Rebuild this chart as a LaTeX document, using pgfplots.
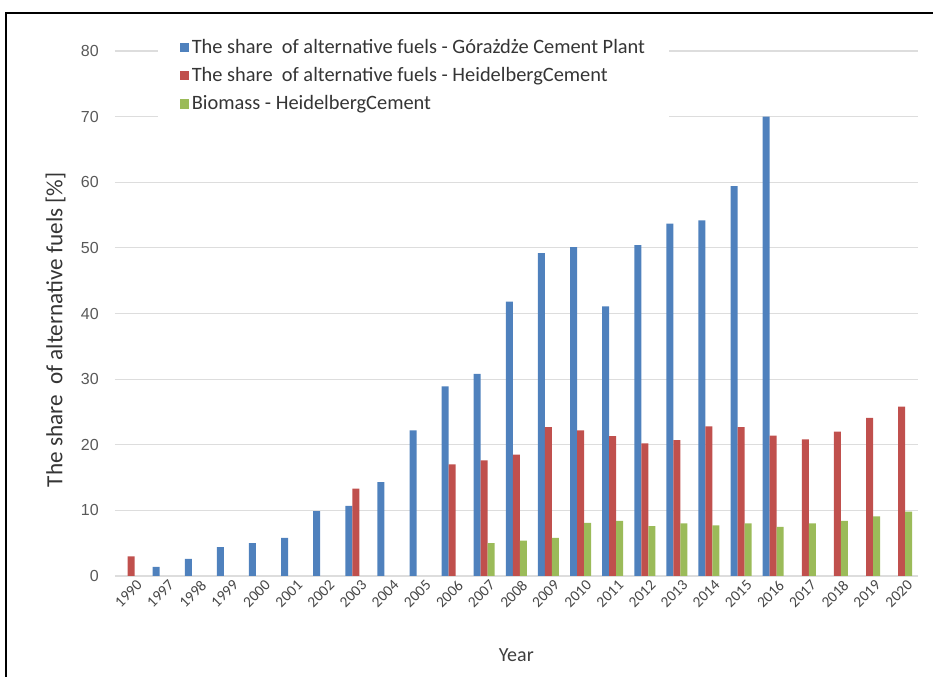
\documentclass[border=0pt]{standalone}
\usepackage{fontspec}
\setmainfont{Carlito}
\newfontfamily\arialf{Liberation Sans}
\usepackage{pgfplots}
\pgfplotsset{compat=1.18}
\definecolor{cblue}{HTML}{4F81BD}
\definecolor{cred}{HTML}{C0504D}
\definecolor{cgreen}{HTML}{9BBB59}
\definecolor{tgray}{HTML}{595959}
\definecolor{ggray}{HTML}{DDDDDD}
\begin{document}
\begin{tikzpicture}
\begin{axis}[
  name=ax,
  scale only axis,
  width=602pt, height=393.75pt,
  ybar=0pt, bar width=5.25pt,
  xmin=-0.5, xmax=24.5,
  ymin=0, ymax=80,
  ytick={0,10,...,80},
  xtick={0,...,24},
  xticklabels={1990,1997,1998,1999,2000,2001,2002,2003,2004,2005,2006,2007,2008,2009,2010,2011,2012,2013,2014,2015,2016,2017,2018,2019,2020},
  x tick label style={rotate=45, anchor=north east, font=\fontsize{11.5}{13}\selectfont, text=tgray!80!black, inner sep=1pt, yshift=-3pt, xshift=2pt},
  y tick label style={font=\arialf\fontsize{12}{14}\selectfont, text=tgray, inner sep=0pt, xshift=-12pt},
  /pgf/number format/assume math mode=true,
  major tick length=0pt,
  axis line style={draw=none},
  ymajorgrids, grid style={ggray, line width=0.8pt},
  xlabel={Year},
  xlabel style={at={(axis description cs:0.5,-0.150)}, anchor=center, font=\fontsize{15}{17}\selectfont, text=tgray!70!black},
  ylabel={The share\ \ of alternative fuels [\%]},
  ylabel style={at={(axis description cs:-0.074,0.469)}, anchor=center, rotate=0, font=\fontsize{17.4}{20}\selectfont, text=tgray!60!black},
  legend style={at={(0.0535,1.048)}, anchor=north west, draw=none, fill=white, font=\fontsize{15.3}{17}\selectfont, text=tgray!60!black, row sep=5pt, inner xsep=16pt, inner ysep=8pt},
  legend cell align=left,
  legend image code/.code={\path[#1] (0pt,-3.6pt) rectangle (7.2pt,3.6pt);},
  after end axis/.code={\coordinate (LL) at (rel axis cs:0,0);},
]
\addplot[fill=cblue, draw=none] coordinates {
 (1,1.4) (2,2.6) (3,4.4) (4,5.0) (5,5.8) (6,9.9) (7,10.7) (8,14.3) (9,22.2) (10,28.9)
 (11,30.8) (12,41.8) (13,49.2) (14,50.1) (15,41.1) (16,50.4) (17,53.7) (18,54.2) (19,59.4) (20,70.0)};
\addplot[fill=cred, draw=none] coordinates {
 (0,3.0) (7,13.3) (10,17.0) (11,17.6) (12,18.5) (13,22.7) (14,22.2) (15,21.3) (16,20.2) (17,20.7)
 (18,22.8) (19,22.7) (20,21.4) (21,20.8) (22,22.0) (23,24.1) (24,25.8)};
\addplot[fill=cgreen, draw=none] coordinates {
 (11,5.0) (12,5.4) (13,5.8) (14,8.1) (15,8.4) (16,7.6) (17,8.0) (18,7.7) (19,8.0) (20,7.5)
 (21,8.0) (22,8.4) (23,9.1) (24,9.8)};
\legend{The share\ \ of alternative fuels - Górażdże Cement Plant, The share\ \ of alternative fuels - HeidelbergCement, Biomass - HeidelbergCement}
\end{axis}
\pgfresetboundingbox
\path[use as bounding box] ([shift={(-86.25pt,-75.75pt)}]LL) rectangle ([shift={(613.5pt,432pt)}]LL);
\draw[black, line width=0.9pt] ([shift={(-81.75pt,-150pt)}]LL) rectangle ([shift={(700pt,422.25pt)}]LL);
\end{tikzpicture}
\end{document}
